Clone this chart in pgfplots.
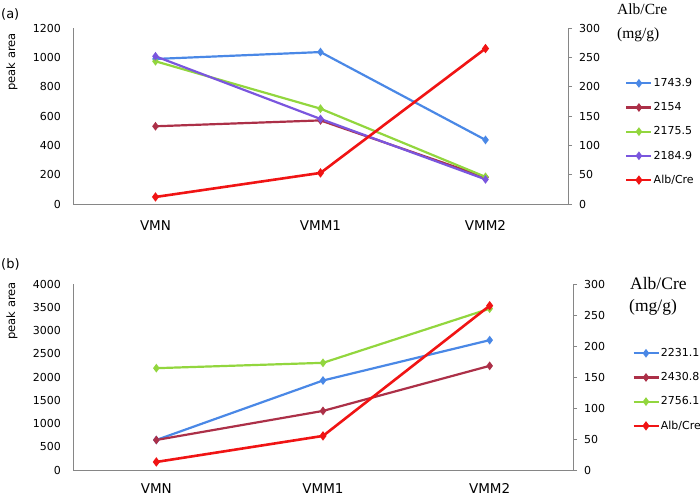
\documentclass[border=0pt]{standalone}
\usepackage{pgfplots}
\pgfplotsset{compat=1.18}
\usepackage{fontspec}
\setmainfont{DejaVu Sans}
\newfontfamily\tnr{Liberation Serif}
\definecolor{axgray}{RGB}{134,134,134}
\definecolor{cblue}{RGB}{74,136,230}
\definecolor{cdred}{RGB}{172,48,72}
\definecolor{cgreen}{RGB}{146,214,62}
\definecolor{cpurple}{RGB}{122,86,222}
\definecolor{cred}{RGB}{240,20,20}

\pgfplotsset{
  base/.style={
    scale only axis,
    xmin=-0.5, xmax=2.5,
    ymin=0,
    /pgf/number format/assume math mode=true,
    /pgf/number format/1000 sep={},
    axis line style={draw=axgray, line width=0.8pt},
    clip=false,
  },
  leftax/.style={
    base,
    axis x line*=bottom, axis y line*=left,
    xtick={0,1,2}, xticklabels={VMN,VMM1,VMM2},
    major tick length=0pt,
    xticklabel style={font=\fontsize{13.5}{15}\selectfont, inner sep=0pt, anchor=north},
    yticklabel style={font=\fontsize{11}{13}\selectfont, inner sep=0pt, anchor=east, xshift=-12pt},
    ylabel={peak area},
  },
  rightax/.style={
    base,
    axis x line=none, axis y line*=right,
    ymax=300, ytick distance=50,
    tick align=outside, major tick length=4pt,
    every tick/.style={axgray, line width=0.8pt},
    yticklabel style={font=\fontsize{11}{13}\selectfont, inner sep=0pt, anchor=west, xshift=7pt},
    legend cell align=left,
    legend style={draw=none, fill=none, font=\fontsize{11}{13}\selectfont, inner sep=0pt, row sep=12.5pt,
      nodes={inner sep=1pt}},
    legend image code/.code={\draw[mark repeat=2,mark phase=2,##1] plot coordinates {(0pt,0pt) (12.5pt,0pt) (25pt,0pt)};},
  },
  ser/.style={line width=2.2pt, mark=diamond*, mark size=2.6pt, mark options={solid}},
}

\begin{document}
\begin{tikzpicture}
\useasboundingbox (0,0) rectangle (700pt,-499pt);

% ---------------- Panel (a) ----------------
\begin{axis}[leftax, at={(73pt,-204pt)}, anchor=south west, width=495pt, height=176pt,
  ymax=1200, ytick distance=200,
  xticklabel style={yshift=-16pt},
  ylabel style={at={(-0.1232,0.807)}, anchor=center, inner sep=0pt, font=\fontsize{11.5}{13}\selectfont}]
\addplot[ser, color=cblue] coordinates {(0,989) (1,1036) (2,437)};
\addplot[ser, color=cdred] coordinates {(0,530) (1,570) (2,182)};
\addplot[ser, color=cgreen] coordinates {(0,973) (1,650) (2,185)};
\addplot[ser, color=cpurple] coordinates {(0,1007) (1,580) (2,168)};
\end{axis}
\begin{axis}[rightax, at={(73pt,-204pt)}, anchor=south west, width=495pt, height=176pt,
  legend style={at={(1.115,0.72)}, anchor=north west}]
\addlegendimage{ser, color=cblue}
\addlegendentry{1743.9}
\addlegendimage{ser, color=cdred}
\addlegendentry{2154}
\addlegendimage{ser, color=cgreen}
\addlegendentry{2175.5}
\addlegendimage{ser, color=cpurple}
\addlegendentry{2184.9}
\addplot[ser, color=cred, line width=2.6pt] coordinates {(0,12) (1,53) (2,265)};
\addlegendentry{Alb/Cre}
\end{axis}

% ---------------- Panel (b) ----------------
\begin{axis}[leftax, at={(73pt,-470pt)}, anchor=south west, width=500pt, height=186pt,
  ymax=4000, ytick distance=500,
  xticklabel style={yshift=-13pt},
  ylabel style={at={(-0.122,0.855)}, anchor=center, inner sep=0pt, font=\fontsize{11.5}{13}\selectfont}]
\addplot[ser, color=cblue] coordinates {(0,646) (1,1925) (2,2793)};
\addplot[ser, color=cdred] coordinates {(0,646) (1,1271) (2,2240)};
\addplot[ser, color=cgreen] coordinates {(0,2190) (1,2305) (2,3470)};
\end{axis}
\begin{axis}[rightax, at={(73pt,-470pt)}, anchor=south west, width=500pt, height=186pt,
  legend style={at={(1.118,0.66)}, anchor=north west}]
\addlegendimage{ser, color=cblue}
\addlegendentry{2231.1}
\addlegendimage{ser, color=cdred}
\addlegendentry{2430.8}
\addlegendimage{ser, color=cgreen}
\addlegendentry{2756.1}
\addplot[ser, color=cred, line width=2.6pt] coordinates {(0,13) (1,55) (2,265)};
\addlegendentry{Alb/Cre}
\end{axis}

% ---------------- Text ----------------
\node[anchor=west, inner sep=0pt, font=\fontsize{13}{15}\selectfont] at (1pt,-14pt) {(a)};
\node[anchor=west, inner sep=0pt, font=\fontsize{13}{15}\selectfont] at (1pt,-264pt) {(b)};
\node[anchor=base west, inner sep=0pt, font=\tnr\fontsize{15.5}{17}\selectfont] at (617pt,-14pt) {Alb/Cre};
\node[anchor=base west, inner sep=0pt, font=\tnr\fontsize{15.5}{17}\selectfont] at (617pt,-38pt) {(mg/g)};
\node[anchor=base west, inner sep=0pt, font=\tnr\fontsize{17.5}{19}\selectfont] at (630pt,-289pt) {Alb/Cre};
\node[anchor=base west, inner sep=0pt, font=\tnr\fontsize{17.5}{19}\selectfont] at (629pt,-311pt) {(mg/g)};
\end{tikzpicture}
\end{document}
